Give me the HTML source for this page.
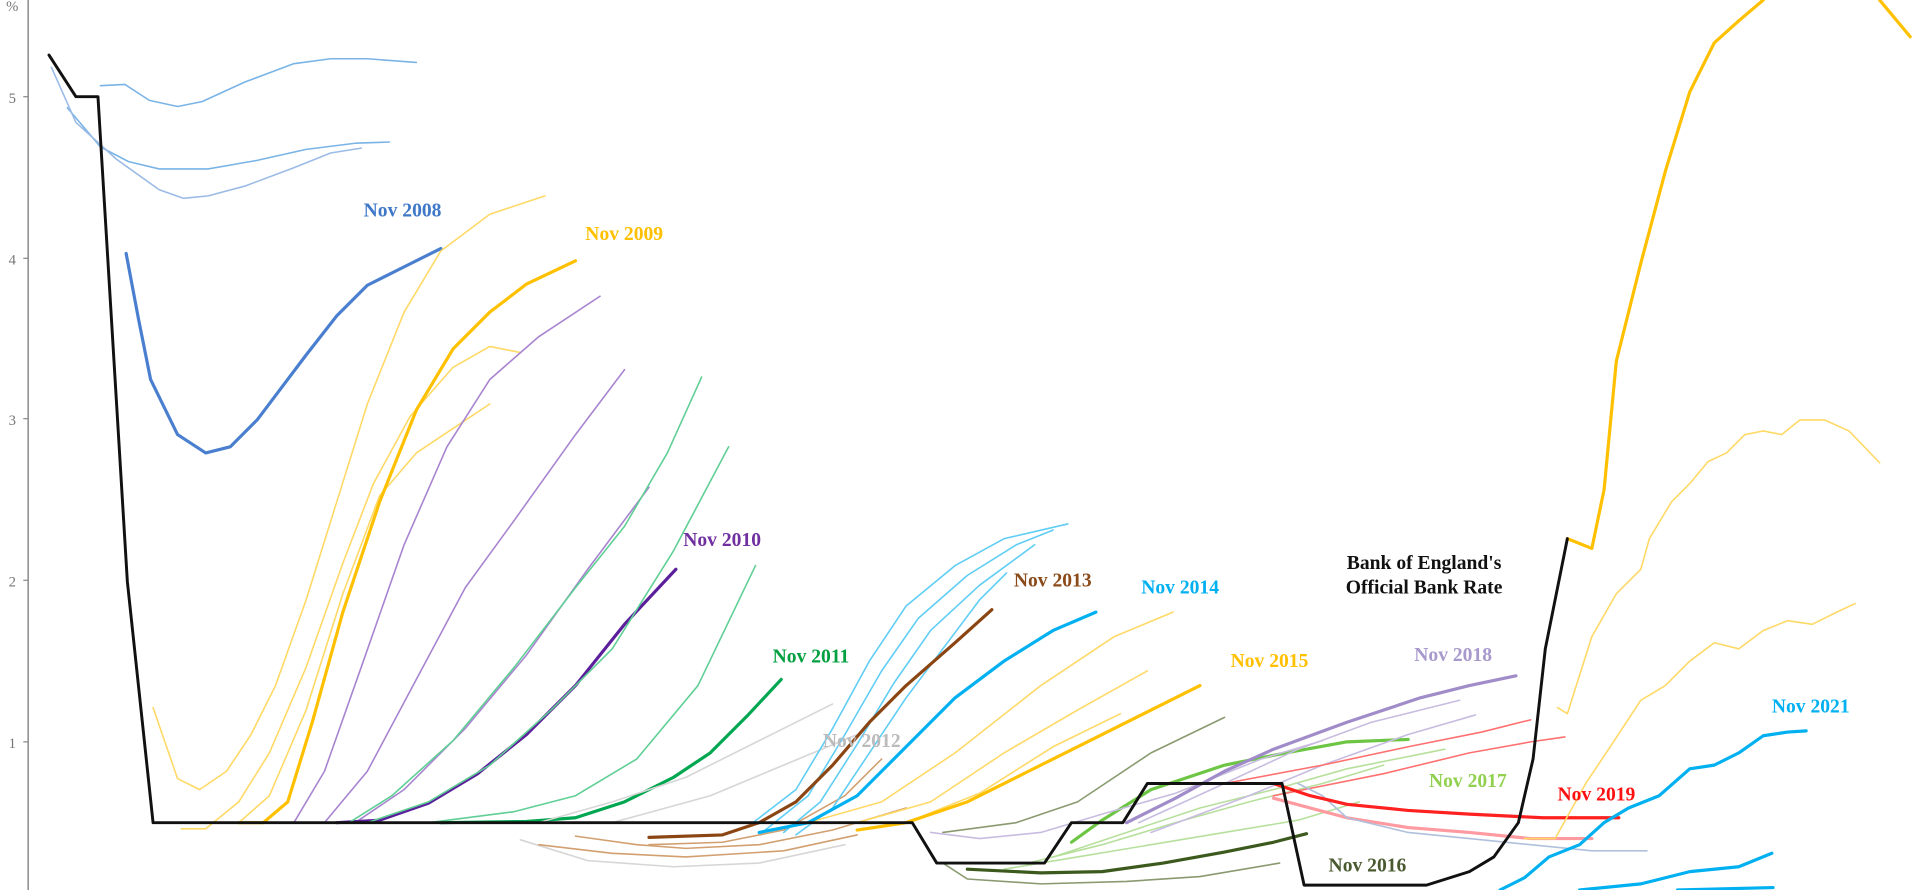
<!DOCTYPE html>
<html><head><meta charset="utf-8"><style>
html,body{margin:0;padding:0;background:#fff;}
svg{display:block;}
text{font-family:"Liberation Serif",serif;font-weight:bold;font-size:16px;}
.t{font-weight:normal;font-size:12px;fill:#777;}
polyline{fill:none;stroke-linejoin:round;stroke-linecap:round;}
.th{stroke-width:1.3;}
.tk{stroke-width:2.6;}
</style></head><body>
<svg width="1920" height="890" viewBox="0 0 1568 727" preserveAspectRatio="none" xmlns="http://www.w3.org/2000/svg">
<line x1="23" y1="0" x2="23" y2="727" stroke="#888" stroke-width="1.2"/>
<g stroke="#888" stroke-width="1"><line x1="19" y1="79" x2="23" y2="79"/><line x1="19" y1="211" x2="23" y2="211"/><line x1="19" y1="342" x2="23" y2="342"/><line x1="19" y1="474" x2="23" y2="474"/><line x1="19" y1="606" x2="23" y2="606"/></g>
<text class="t" x="5" y="9">%</text>
<text class="t" x="7" y="84">5</text><text class="t" x="7" y="216">4</text><text class="t" x="7" y="347">3</text><text class="t" x="7" y="479">2</text><text class="t" x="7" y="611">1</text>

<!-- 2008 era blues -->
<polyline class="th" stroke="#7ab4e6" points="82,70 102,69 122,82 145,87 165,83 200,67 240,52 270,48 300,48 340,51"/>
<polyline class="th" stroke="#7ab4e6" points="55,88 82,120 105,132 130,138 170,138 210,131 250,122 290,117 318,116"/>
<polyline class="th" stroke="#9bbbe6" points="42,55 62,100 95,130 130,155 150,162 170,160 200,152 240,137 270,125 295,121"/>
<polyline class="tk" stroke="#4a7fd0" points="103,207 113,260 123,310 145,355 168,370 188,365 210,343 250,290 275,258 300,233 330,218 360,203"/>

<!-- 2009 yellows -->
<polyline class="th" stroke="#ffd966" points="125,578 145,636 163,645 185,630 205,600 225,560 250,490 275,410 300,330 330,255 360,205 400,175 445,160"/>
<polyline class="th" stroke="#ffd966" points="148,677 168,677 195,655 220,615 250,545 280,460 305,395 335,340 370,300 400,283 425,288"/>
<polyline class="th" stroke="#ffd966" points="195,672 220,650 250,580 280,485 310,405 340,370 370,350 400,330"/>
<polyline class="tk" stroke="#ffc000" points="195,672 215,672 235,655 255,590 280,500 310,410 340,335 370,285 400,255 430,232 470,213"/>

<!-- 2010 purples -->
<polyline class="th" stroke="#a884d0" points="240,672 265,630 295,545 330,445 365,365 400,310 440,275 490,242"/>
<polyline class="th" stroke="#a884d0" points="265,672 300,630 340,555 380,480 420,425 470,355 510,302"/>
<polyline class="th" stroke="#a884d0" points="290,672 330,645 380,595 430,535 480,465 530,398"/>
<polyline class="tk" stroke="#5b1f9c" points="275,672 310,670 350,656 390,632 430,600 470,560 510,510 552,465"/>

<!-- 2011 greens -->
<polyline class="th" stroke="#5fcf95" points="285,672 320,650 370,605 420,545 470,480 510,430 545,370 573,308"/>
<polyline class="th" stroke="#5fcf95" points="300,672 350,655 400,625 450,580 500,530 550,450 595,365"/>
<polyline class="th" stroke="#5fcf95" points="350,672 420,663 470,650 520,620 570,560 617,462"/>
<polyline class="tk" stroke="#00a650" points="360,672 430,671 470,668 510,655 550,635 580,615 610,585 638,555"/>

<!-- 2012 greys -->
<polyline class="th" stroke="#d6d6d6" points="440,672 500,655 560,635 620,605 680,575"/>
<polyline class="th" stroke="#d6d6d6" points="500,672 580,650 640,625 700,600"/>
<polyline class="th" stroke="#d6d6d6" points="425,686 480,703 550,708 620,705 690,690"/>

<!-- 2013 brown / light blue -->
<polyline class="th" stroke="#d2a070" points="470,683 520,690 560,693 620,690 680,678 740,660"/>
<polyline class="th" stroke="#d2a070" points="440,690 500,697 560,700 640,695 700,682"/>
<polyline class="th" stroke="#d2a070" points="530,690 590,688 640,678 690,650 720,620"/>
<polyline class="th" stroke="#60cdf5" points="615,672 650,645 680,595 710,540 740,495 780,462 820,440 872,428"/>
<polyline class="th" stroke="#60cdf5" points="625,678 660,650 690,600 720,548 750,505 790,470 830,445 860,433"/>
<polyline class="th" stroke="#60cdf5" points="640,680 670,655 700,608 730,558 760,515 800,478 845,445"/>
<polyline class="th" stroke="#60cdf5" points="650,682 680,660 710,615 740,570 770,530 800,490 822,468"/>
<polyline class="tk" stroke="#8b4513" points="530,684 590,682 620,672 650,655 680,625 710,590 740,560 780,525 810,498"/>

<!-- 2014 -->
<polyline class="th" stroke="#ffd966" points="660,672 720,655 780,615 850,560 910,520 958,500"/>
<polyline class="th" stroke="#ffd966" points="700,672 760,655 820,615 880,580 937,548"/>
<polyline class="th" stroke="#ffd966" points="740,672 800,648 860,610 915,583"/>
<polyline class="tk" stroke="#00b0f0" points="620,680 660,672 700,650 740,610 780,570 820,540 860,515 895,500"/>

<!-- 2015 -->
<polyline class="th" stroke="#8a9a70" points="770,680 830,672 880,655 940,615 1000,586"/>
<polyline class="tk" stroke="#ffc000" points="700,678 740,672 790,655 840,630 890,605 940,580 980,560"/>

<!-- 2016-2017 greens -->
<polyline class="th" stroke="#8a9a70" points="770,705 790,718 850,722 920,720 980,716 1045,705"/>
<polyline class="th" stroke="#b7e09c" points="820,710 880,700 940,690 1000,680 1060,670 1110,655"/>
<polyline class="th" stroke="#b7e09c" points="840,705 900,690 960,672 1020,655 1080,640 1130,625"/>
<polyline class="th" stroke="#b7e09c" points="860,700 920,680 980,660 1040,645 1100,628 1180,612"/>
<polyline class="tk" stroke="#3d5a1e" points="790,710 850,713 900,712 950,705 1000,696 1040,688 1067,681"/>
<polyline class="tk" stroke="#6cc644" points="875,688 900,670 940,645 1000,625 1050,615 1100,606 1150,604"/>

<!-- 2018 -->
<polyline class="th" stroke="#c8bde0" points="930,672 1000,640 1060,612 1120,590 1192,572"/>
<polyline class="th" stroke="#c8bde0" points="940,680 1020,650 1080,625 1150,600 1205,584"/>
<polyline class="th" stroke="#c8bde0" points="760,680 800,685 850,680 900,665 960,648 1030,620 1080,605"/>
<polyline class="tk" stroke="#a08cc8" points="920,672 960,652 1000,630 1040,612 1100,590 1160,570 1200,560 1238,552"/>

<!-- 2019 reds -->
<polyline class="th" stroke="#ff7070" points="1000,640 1080,625 1150,610 1210,598 1250,588"/>
<polyline class="th" stroke="#ff7070" points="1040,650 1130,632 1200,615 1250,606 1278,602"/>
<polyline class="tk" stroke="#ff9aa0" points="1040,652 1100,668 1150,676 1200,680 1250,685 1300,685"/>
<polyline class="th" stroke="#b0c0dc" points="1060,640 1080,650 1100,668 1150,680 1200,685 1250,690 1300,695 1345,695"/>
<polyline class="tk" stroke="#ff2020" points="1040,640 1070,650 1100,657 1150,662 1200,665 1260,668 1322,668"/>

<!-- 2020/2021 yellows & blues -->
<polyline class="th" stroke="#ffd966" points="1272,578 1280,583 1300,520 1320,485 1340,465 1347,440 1365,410 1380,395 1395,377 1410,370 1425,355 1440,352 1455,355 1470,343 1490,343 1510,352 1535,378"/>
<polyline class="th" stroke="#ffd966" points="1245,685 1270,685 1295,640 1315,610 1340,572 1360,560 1380,540 1400,525 1420,530 1440,515 1460,507 1480,510 1500,500 1515,493"/>
<polyline class="tk" stroke="#ffc000" points="1280,440 1300,448 1310,400 1320,295 1340,215 1360,140 1380,75 1400,35 1420,17 1440,0"/>
<polyline class="tk" stroke="#ffc000" points="1535,0 1545,12 1560,30"/>
<polyline class="tk" stroke="#00b0f0" points="1225,727 1245,717 1265,700 1290,690 1310,672 1330,660 1355,650 1380,628 1400,625 1420,615 1440,601 1460,598 1475,597"/>
<polyline class="tk" stroke="#00b0f0" points="1290,727 1340,722 1380,712 1420,708 1447,697"/>
<polyline class="tk" stroke="#00b0f0" points="1370,727 1448,725"/>

<!-- Bank rate -->
<polyline stroke="#111" stroke-width="2.4" fill="none" stroke-linejoin="miter" points="40,45 62,79 80,79 104,475 125,672 745,672 765,705 853,705 875,672 917,672 937,640 1047,640 1065,723 1165,723 1200,712 1220,700 1240,672 1252,620 1262,530 1280,440"/>

<!-- labels -->
<text x="297" y="177" fill="#3f78c8">Nov 2008</text>
<text x="478" y="196" fill="#ffc000">Nov 2009</text>
<text x="558" y="446" fill="#7030a0">Nov 2010</text>
<text x="631" y="541" fill="#00a040">Nov 2011</text>
<text x="672" y="610" fill="#bbbbbb">Nov 2012</text>
<text x="828" y="479" fill="#8b4a1a">Nov 2013</text>
<text x="932" y="485" fill="#00b0f0">Nov 2014</text>
<text x="1005" y="545" fill="#ffc000">Nov 2015</text>
<text x="1085" y="712" fill="#4a5a30">Nov 2016</text>
<text x="1167" y="643" fill="#92d050">Nov 2017</text>
<text x="1155" y="540" fill="#a899cc">Nov 2018</text>
<text x="1272" y="654" fill="#ff1010">Nov 2019</text>
<text x="1447" y="582" fill="#00b0f0">Nov 2021</text>
<text x="1163" y="465" fill="#111" text-anchor="middle">Bank of England's</text>
<text x="1163" y="485" fill="#111" text-anchor="middle">Official Bank Rate</text>
</svg>
</body></html>
